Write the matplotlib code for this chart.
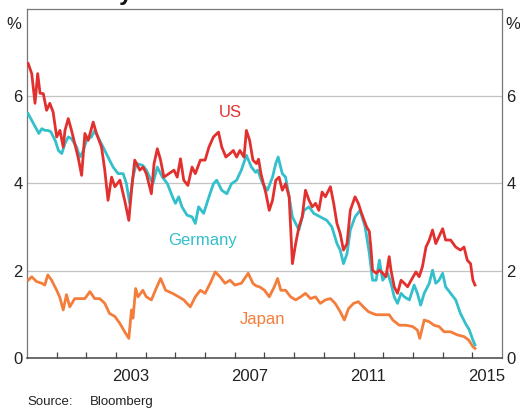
import matplotlib
matplotlib.use('Agg')
import matplotlib.pyplot as plt
import numpy as np

plt.rcParams['font.family'] = ['Liberation Sans', 'DejaVu Sans']

# 10-year government bond yields (year, per cent)
us_t = [2000.04, 2000.16, 2000.27, 2000.36, 2000.44, 2000.55, 2000.66, 2000.77, 2000.88,
        2001.00, 2001.11, 2001.22, 2001.28, 2001.39, 2001.50, 2001.61, 2001.72, 2001.84,
        2001.95, 2002.06, 2002.23, 2002.34, 2002.51, 2002.62, 2002.73, 2002.85, 2002.96,
        2003.13, 2003.29, 2003.43, 2003.52, 2003.63, 2003.80, 2003.91, 2004.02, 2004.19,
        2004.28, 2004.39, 2004.50, 2004.61, 2004.78, 2004.95, 2005.06, 2005.17, 2005.28,
        2005.42, 2005.56, 2005.67, 2005.84, 2006.00, 2006.13, 2006.28, 2006.45, 2006.56,
        2006.70, 2006.84, 2006.95, 2007.06, 2007.17, 2007.31, 2007.39, 2007.50, 2007.61,
        2007.73, 2007.80, 2007.88, 2008.05, 2008.16, 2008.27, 2008.38, 2008.49, 2008.60,
        2008.71, 2008.83, 2008.88, 2008.94, 2009.05, 2009.16, 2009.27, 2009.38, 2009.50,
        2009.61, 2009.72, 2009.83, 2009.94, 2010.05, 2010.22, 2010.33, 2010.44, 2010.55,
        2010.66, 2010.78, 2010.89, 2011.05, 2011.16, 2011.27, 2011.44, 2011.53, 2011.59,
        2011.64, 2011.76, 2011.87, 2011.98, 2012.09, 2012.20, 2012.26, 2012.37, 2012.48,
        2012.60, 2012.71, 2012.82, 2012.94, 2013.10, 2013.21, 2013.32, 2013.44, 2013.55,
        2013.66, 2013.77, 2013.88, 2014.00, 2014.10, 2014.27, 2014.44, 2014.60, 2014.72,
        2014.83, 2014.94, 2015.02, 2015.09]
us_v = [6.74, 6.51, 5.83, 6.51, 6.06, 6.05, 5.67, 5.83, 5.63,
        5.06, 5.21, 4.83, 5.21, 5.48, 5.21, 4.91, 4.60, 4.18,
        5.14, 4.98, 5.40, 5.14, 4.83, 4.30, 3.61, 4.14, 3.92,
        4.07, 3.61, 3.15, 3.84, 4.53, 4.30, 4.37, 4.22, 3.76,
        4.45, 4.79, 4.53, 4.14, 4.22, 4.30, 4.14, 4.56, 4.07,
        3.95, 4.37, 4.22, 4.53, 4.53, 4.83, 5.06, 5.17, 4.83,
        4.60, 4.68, 4.75, 4.60, 4.75, 4.60, 5.21, 4.98, 4.53,
        4.45, 4.55, 4.22, 3.76, 3.38, 3.61, 4.07, 4.14, 3.84,
        3.99, 3.69, 3.00, 2.16, 2.62, 3.00, 3.23, 3.84, 3.61,
        3.46, 3.54, 3.38, 3.80, 3.69, 3.92, 3.54, 3.08, 2.85,
        2.47, 2.62, 3.38, 3.69, 3.54, 3.31, 3.00, 2.90, 2.47,
        2.01, 1.94, 2.01, 1.94, 1.86, 2.32, 2.01, 1.63, 1.48,
        1.78, 1.71, 1.63, 1.78, 1.97, 1.86, 2.09, 2.54, 2.70,
        2.93, 2.62, 2.78, 2.96, 2.70, 2.70, 2.54, 2.47, 2.54,
        2.24, 2.16, 1.78, 1.67]

germany_t = [2000.04, 2000.16, 2000.28, 2000.40, 2000.50, 2000.60, 2000.70, 2000.80, 2000.95,
             2001.06, 2001.17, 2001.28, 2001.39, 2001.50, 2001.67, 2001.78, 2001.90, 2002.00,
             2002.17, 2002.28, 2002.45, 2002.62, 2002.78, 2002.90, 2003.07, 2003.24, 2003.35,
             2003.46, 2003.57, 2003.68, 2003.90, 2004.02, 2004.24, 2004.39, 2004.56, 2004.73,
             2004.90, 2005.00, 2005.11, 2005.22, 2005.39, 2005.56, 2005.67, 2005.78, 2005.95,
             2006.13, 2006.28, 2006.39, 2006.56, 2006.73, 2006.89, 2007.06, 2007.22, 2007.39,
             2007.56, 2007.70, 2007.77, 2007.94, 2008.10, 2008.27, 2008.38, 2008.46, 2008.60,
             2008.71, 2008.83, 2008.94, 2009.05, 2009.16, 2009.33, 2009.50, 2009.66, 2009.88,
             2010.10, 2010.27, 2010.44, 2010.55, 2010.66, 2010.78, 2010.89, 2011.05, 2011.22,
             2011.39, 2011.53, 2011.64, 2011.76, 2011.87, 2011.98, 2012.15, 2012.26, 2012.37,
             2012.48, 2012.60, 2012.71, 2012.88, 2013.04, 2013.15, 2013.26, 2013.38, 2013.55,
             2013.66, 2013.77, 2013.88, 2014.00, 2014.10, 2014.27, 2014.44, 2014.60, 2014.77,
             2014.90, 2015.02, 2015.09]
germany_v = [5.59, 5.44, 5.29, 5.14, 5.25, 5.21, 5.21, 5.18, 4.98,
             4.75, 4.68, 4.91, 5.06, 5.02, 4.83, 4.60, 4.75, 4.98,
             5.06, 5.21, 4.98, 4.75, 4.53, 4.37, 4.22, 4.22, 3.99,
             3.54, 4.14, 4.45, 4.41, 4.30, 3.99, 4.37, 4.14, 3.99,
             3.69, 3.54, 3.69, 3.46, 3.27, 3.23, 3.08, 3.46, 3.31,
             3.69, 3.99, 4.07, 3.84, 3.76, 3.99, 4.07, 4.30, 4.64,
             4.37, 4.25, 4.30, 3.99, 3.84, 4.14, 4.45, 4.60, 4.22,
             4.14, 3.69, 3.23, 3.08, 2.93, 3.38, 3.46, 3.31, 3.23,
             3.15, 3.00, 2.62, 2.47, 2.16, 2.39, 2.93, 3.23, 3.38,
             3.00, 2.40, 1.78, 1.78, 2.24, 1.78, 1.94, 1.71, 1.40,
             1.25, 1.48, 1.40, 1.33, 1.67, 1.48, 1.21, 1.48, 1.71,
             2.01, 1.71, 1.78, 1.94, 1.63, 1.48, 1.33, 1.02, 0.79,
             0.64, 0.41, 0.30]

japan_t = [2000.04, 2000.16, 2000.32, 2000.50, 2000.60, 2000.70, 2000.83, 2001.00, 2001.10,
           2001.22, 2001.33, 2001.44, 2001.61, 2001.78, 2001.95, 2002.12, 2002.28, 2002.45,
           2002.62, 2002.78, 2002.96, 2003.13, 2003.29, 2003.43, 2003.52, 2003.57, 2003.66,
           2003.74, 2003.90, 2004.02, 2004.19, 2004.35, 2004.50, 2004.67, 2004.90, 2005.11,
           2005.28, 2005.50, 2005.67, 2005.84, 2006.00, 2006.17, 2006.34, 2006.50, 2006.67,
           2006.84, 2007.00, 2007.22, 2007.45, 2007.61, 2007.72, 2007.83, 2008.00, 2008.16,
           2008.33, 2008.44, 2008.55, 2008.71, 2008.88, 2009.05, 2009.22, 2009.38, 2009.55,
           2009.72, 2009.88, 2010.05, 2010.22, 2010.38, 2010.55, 2010.69, 2010.83, 2011.00,
           2011.16, 2011.33, 2011.50, 2011.64, 2011.76, 2011.98, 2012.20, 2012.32, 2012.54,
           2012.76, 2012.99, 2013.15, 2013.23, 2013.38, 2013.55, 2013.71, 2013.88, 2014.05,
           2014.27, 2014.49, 2014.72, 2014.88, 2015.02, 2015.09]
japan_v = [1.78, 1.86, 1.75, 1.71, 1.67, 1.90, 1.78, 1.55, 1.40,
           1.10, 1.45, 1.17, 1.36, 1.36, 1.36, 1.52, 1.36, 1.36,
           1.25, 1.02, 0.95, 0.79, 0.60, 0.45, 1.10, 0.91, 1.59,
           1.40, 1.55, 1.40, 1.33, 1.59, 1.82, 1.55, 1.48, 1.40,
           1.33, 1.17, 1.40, 1.55, 1.48, 1.71, 1.97, 1.86, 1.71,
           1.78, 1.67, 1.71, 1.94, 1.71, 1.65, 1.63, 1.55, 1.40,
           1.63, 1.82, 1.55, 1.55, 1.40, 1.33, 1.40, 1.48, 1.36,
           1.40, 1.25, 1.33, 1.36, 1.25, 1.06, 0.87, 1.13, 1.25,
           1.29, 1.17, 1.06, 1.02, 0.99, 0.99, 0.99, 0.87, 0.75,
           0.75, 0.72, 0.64, 0.45, 0.87, 0.83, 0.75, 0.72, 0.60,
           0.60, 0.53, 0.49, 0.41, 0.26, 0.22]

label_years = [2003, 2007, 2011, 2015]

us_col = '#e2302f'
de_col = '#33bfcc'
jp_col = '#f47d3b'

fig = plt.figure(figsize=(5.2, 4.09), dpi=100)
ax = fig.add_axes([0.0519, 0.1247, 0.9135, 0.8545])

ax.plot(japan_t, japan_v, color=jp_col, lw=2.0, zorder=3)
ax.plot(germany_t, germany_v, color=de_col, lw=2.0, zorder=4)
ax.plot(us_t, us_v, color=us_col, lw=2.0, zorder=5)

ax.set_xlim(2000, 2016)
ax.set_ylim(0, 8)

for y in [2, 4, 6]:
    ax.axhline(y, color='#c4c4c4', lw=0.9, zorder=1)

# year ticks at year boundaries, labels centred on the year
ax.set_xticks(np.arange(2001, 2016))
ax.set_xticklabels([])
ax.tick_params(axis='x', which='major', direction='in', length=4.5, width=0.9,
               color='#444444', top=False)
ax.set_xticks([y + 0.5 for y in label_years], minor=True)
ax.set_xticklabels([str(y) for y in label_years], minor=True, fontsize=12)
ax.tick_params(axis='x', which='minor', length=0, pad=8, labelcolor='#222222')

ax.set_yticks([0, 2, 4, 6])
ax.set_yticklabels(['0', '2', '4', '6'], fontsize=12)
ax.tick_params(axis='y', length=0, pad=3, labelcolor='#222222',
               left=True, right=True, labelleft=True, labelright=True)
ax.text(-0.012, 0.975, '%', transform=ax.transAxes, ha='right', va='top',
        fontsize=12, color='#222222')
ax.text(1.008, 0.975, '%', transform=ax.transAxes, ha='left', va='top',
        fontsize=12, color='#222222')

for side in ['left', 'right', 'top']:
    ax.spines[side].set_color('#777777')
    ax.spines[side].set_linewidth(0.9)
ax.spines['bottom'].set_color('#444444')
ax.spines['bottom'].set_linewidth(1.1)

ax.text(2006.85, 5.63, 'US', color=us_col, fontsize=12, ha='center', va='center')
ax.text(2005.9, 2.7, 'Germany', color=de_col, fontsize=12, ha='center', va='center')
ax.text(2007.95, 0.87, 'Japan', color=jp_col, fontsize=12, ha='center', va='center')

# title sits above the top edge in the reference, only its descenders show
fig.text(0.52, 0.9995, '10-year Government Bond Yields', ha='center', va='baseline',
         fontsize=17, fontweight='bold', color='#111111')

fig.text(27 / 520, 0.017, 'Source:', fontsize=9.5, color='#222222', va='center')
fig.text(90 / 520, 0.017, 'Bloomberg', fontsize=9.5, color='#222222', va='center')

fig.savefig('out.png', dpi=100)
